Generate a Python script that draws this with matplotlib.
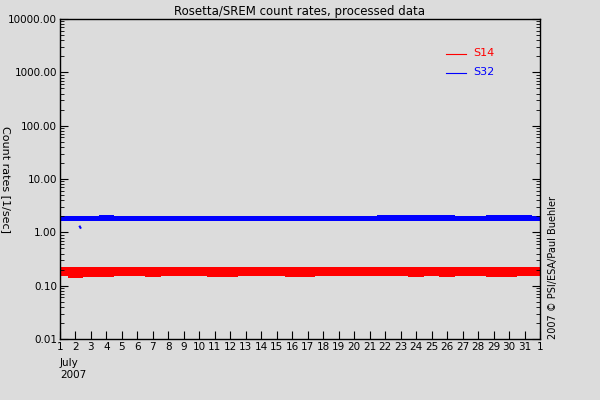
import numpy as np
import matplotlib.pyplot as plt

# day-of-July positions (1 .. 32 = Aug 1) and band extents
days = list(range(1, 33))
s32_lo = [1.62, 1.64, 1.62, 1.63, 1.62, 1.60, 1.62, 1.62, 1.63, 1.62, 1.61, 1.62, 1.62, 1.63, 1.62, 1.61,
          1.60, 1.60, 1.61, 1.62, 1.62, 1.63, 1.63, 1.64, 1.63, 1.63, 1.62, 1.63, 1.63, 1.64, 1.64, 1.64]
s32_hi = [2.05, 2.06, 2.05, 2.07, 2.06, 2.04, 2.05, 2.06, 2.05, 2.04, 2.05, 2.05, 2.06, 2.05, 2.04, 2.03,
          2.02, 2.03, 2.04, 2.05, 2.06, 2.07, 2.07, 2.10, 2.08, 2.07, 2.06, 2.06, 2.07, 2.07, 2.07, 2.06]
s14_lo = [0.150, 0.140, 0.148, 0.146, 0.149, 0.150, 0.148, 0.150, 0.149, 0.150, 0.147, 0.146, 0.149, 0.150,
          0.149, 0.148, 0.147, 0.149, 0.150, 0.149, 0.150, 0.149, 0.150, 0.148, 0.150, 0.146, 0.149, 0.150,
          0.148, 0.146, 0.149, 0.150]
s14_hi = [0.222, 0.220, 0.223, 0.224, 0.222, 0.223, 0.221, 0.222, 0.223, 0.222, 0.224, 0.223, 0.224, 0.223,
          0.225, 0.223, 0.222, 0.222, 0.223, 0.224, 0.223, 0.224, 0.228, 0.226, 0.224, 0.227, 0.223, 0.225,
          0.224, 0.225, 0.224, 0.223]
outlier_x, outlier_y = [2.28, 2.32], [1.28, 1.22]

xtick_labels = [str(d) for d in range(1, 32)] + ['1']

bg = '#dcdcdc'
plt.rcParams['font.family'] = 'DejaVu Sans'
fig = plt.figure(figsize=(6, 4), dpi=100, facecolor=bg)
ax = fig.add_axes([0.1, 0.1525, 0.8, 0.8])
ax.set_facecolor(bg)

ax.fill_between(days, s32_lo, s32_hi, color='blue', lw=0, step='mid')
ax.fill_between(days, s14_lo, s14_hi, color='red', lw=0, step='mid')
ax.plot(outlier_x, outlier_y, color='blue', lw=1.5)

ax.set_yscale('log')
ax.set_ylim(0.01, 10000)
ax.set_xlim(1, 32)
ax.set_yticks([0.01, 0.1, 1, 10, 100, 1000, 10000])
ax.set_yticklabels(['0.01', '0.10', '1.00', '10.00', '100.00', '1000.00', '10000.00'])
ax.set_xticks(days)
ax.set_xticklabels(xtick_labels)
ax.tick_params(axis='both', direction='in', labelsize=7.5, length=6, top=False, right=True,
               labelright=False, which='major', pad=2)
ax.tick_params(axis='y', which='minor', direction='in', length=3, right=True)
for s in ax.spines.values():
    s.set_linewidth(1)

ax.set_title('Rosetta/SREM count rates, processed data', fontsize=8.5, pad=3)
ax.set_ylabel('Count rates [1/sec]', rotation=270, fontsize=8, va='center')
ax.yaxis.set_label_coords(-0.112, 0.5)
ax.text(0, -0.06, 'July\n2007', transform=ax.transAxes, fontsize=7.5, va='top', ha='left')
ax.text(1.017, 0.0, '2007 \u00a9 PSI/ESA/Paul Buehler', transform=ax.transAxes, rotation=90,
        fontsize=7, va='bottom', ha='left')

# legend
ax.plot([0.805, 0.845], [0.89, 0.89], color='red', lw=0.8, transform=ax.transAxes)
ax.text(0.86, 0.893, 'S14', color='red', fontsize=8, transform=ax.transAxes, va='center')
ax.plot([0.805, 0.845], [0.83, 0.83], color='blue', lw=0.8, transform=ax.transAxes)
ax.text(0.86, 0.833, 'S32', color='blue', fontsize=8, transform=ax.transAxes, va='center')

fig.savefig('out.png', facecolor=bg)
